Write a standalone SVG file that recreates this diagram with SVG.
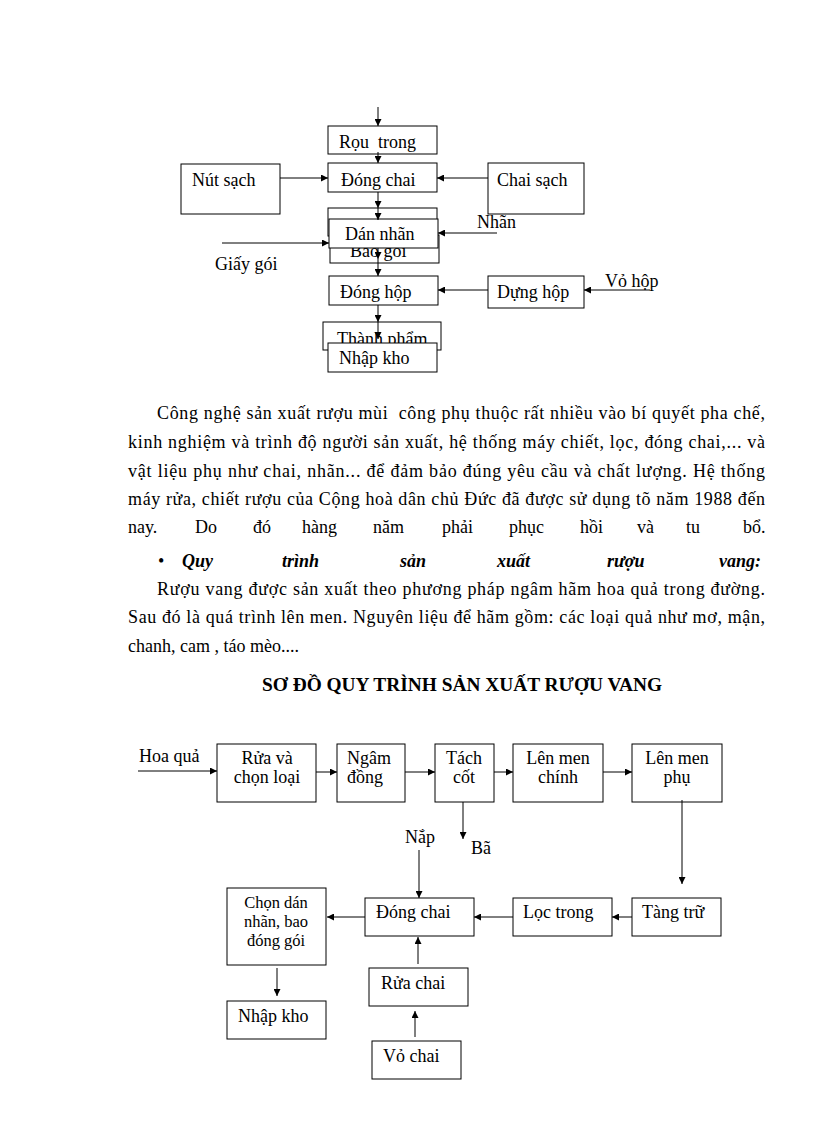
<svg xmlns="http://www.w3.org/2000/svg" width="816" height="1123" viewBox="0 0 816 1123">
<style>
.box{fill:#fff;stroke:#000;stroke-width:1}
.t{font-family:"Liberation Serif","Times New Roman",serif;font-size:18px;fill:#000}
.s{font-size:16.5px}
.p{font-family:"Liberation Serif","Times New Roman",serif;font-size:18px;fill:#000}
.bi{font-weight:bold;font-style:italic}
.c{text-anchor:middle}
.ar{stroke:#000;stroke-width:1;fill:none;marker-end:url(#ah)}
</style>
<defs>
<marker id="ah" markerUnits="userSpaceOnUse" markerWidth="8" markerHeight="7" refX="7" refY="3.5" orient="auto">
<path d="M0,0 L7,3.5 L0,7 z" fill="#000"/>
</marker>
</defs>
<rect width="816" height="1123" fill="#fff"/>

<!-- Top diagram nodes -->
<g id="n-ruou-trong"><rect class="box" x="328" y="126" width="109" height="28"/><text class="t" x="339" y="148" xml:space="preserve">Rọu  trong</text></g>
<g id="n-dong-chai-1"><rect class="box" x="328" y="163" width="109" height="29"/><text class="t" x="341" y="186">Đóng chai</text></g>
<g id="n-nut-sach"><rect class="box" x="181" y="164" width="99" height="50"/><text class="t" x="192" y="186">Nút sạch</text></g>
<g id="n-chai-sach"><rect class="box" x="488" y="163" width="96" height="51"/><text class="t" x="497" y="186">Chai sạch</text></g>
<g id="n-kiem"><rect class="box" x="328" y="208" width="109" height="28"/></g>
<g id="n-bao-goi"><rect class="box" x="330" y="235" width="109" height="28"/><text class="t" x="350" y="257">Bao gói</text></g>
<g id="n-dan-nhan"><rect class="box" x="329" y="219" width="109" height="29"/><text class="t" x="345" y="240">Dán nhãn</text></g>
<g id="n-dong-hop"><rect class="box" x="329" y="276" width="109" height="29"/><text class="t" x="340" y="298">Đóng hộp</text></g>
<g id="n-dung-hop"><rect class="box" x="488" y="276" width="96" height="32"/><text class="t" x="497" y="298">Dựng hộp</text></g>
<g id="n-thanh-pham"><rect class="box" x="323" y="322" width="118" height="28"/><text class="t" x="337" y="345">Thành phẩm</text></g>
<g id="n-nhap-kho-1"><rect class="box" x="328" y="343" width="109" height="29"/><text class="t" x="339" y="364">Nhập kho</text></g>
<g id="l-top"><text class="t" x="215" y="270">Giấy gói</text><text class="t" x="477" y="228">Nhãn</text><text class="t" x="605" y="287">Vỏ hộp</text></g>

<!-- Paragraph text -->
<g id="paragraph">
<text class="p" x="157" y="419" textLength="608" lengthAdjust="spacing" xml:space="preserve">Công nghệ sản xuất rượu mùi  công phụ thuộc rất nhiều vào bí quyết pha chế,</text>
<text class="p" x="128" y="448" textLength="637" lengthAdjust="spacing">kinh nghiệm và trình độ người sản xuất, hệ thống máy chiết, lọc, đóng chai,... và</text>
<text class="p" x="128" y="477" textLength="637" lengthAdjust="spacing">vật liệu phụ như chai, nhãn... để đảm bảo đúng yêu cầu và chất lượng. Hệ thống</text>
<text class="p" x="128" y="505" textLength="637" lengthAdjust="spacing">máy rửa, chiết rượu của Cộng hoà dân chủ Đức đã được sử dụng tõ năm 1988 đến</text>
<text class="p" y="533"><tspan x="128">nay.</tspan><tspan x="195">Do</tspan><tspan x="253">đó</tspan><tspan x="302">hàng</tspan><tspan x="373">năm</tspan><tspan x="442">phải</tspan><tspan x="509">phục</tspan><tspan x="580">hồi</tspan><tspan x="637">và</tspan><tspan x="686">tu</tspan><tspan x="743">bổ.</tspan></text>
<text class="p" y="567"><tspan x="158">•</tspan><tspan class="bi" x="182">Quy</tspan><tspan class="bi" x="282">trình</tspan><tspan class="bi" x="400">sản</tspan><tspan class="bi" x="497">xuất</tspan><tspan class="bi" x="607">rượu</tspan><tspan class="bi" x="719">vang:</tspan></text>
<text class="p" x="157" y="595" textLength="608" lengthAdjust="spacing">Rượu vang được sản xuất theo phương pháp ngâm hãm hoa quả trong đường.</text>
<text class="p" x="128" y="623" textLength="637" lengthAdjust="spacing">Sau đó là quá trình lên men. Nguyên liệu để hãm gồm: các loại quả như mơ, mận,</text>
<text class="p" x="128" y="652">chanh, cam , táo mèo....</text>
<text class="p" x="262" y="691" font-weight="bold" textLength="400" lengthAdjust="spacingAndGlyphs">SƠ ĐỒ QUY TRÌNH SẢN XUẤT RƯỢU VANG</text>
</g>

<!-- Bottom diagram nodes -->
<g id="n-rua-chon"><rect class="box" x="217" y="744" width="99" height="58"/><text class="t c" x="267" y="764">Rửa và</text><text class="t c" x="267" y="783">chọn loại</text></g>
<g id="n-ngam"><rect class="box" x="337" y="744" width="68" height="58"/><text class="t" x="347" y="764">Ngâm</text><text class="t" x="347" y="783">đồng</text></g>
<g id="n-tach"><rect class="box" x="435" y="744" width="59" height="58"/><text class="t c" x="464" y="764">Tách</text><text class="t c" x="464" y="783">cốt</text></g>
<g id="n-men-chinh"><rect class="box" x="513" y="744" width="90" height="58"/><text class="t c" x="558" y="764">Lên men</text><text class="t c" x="558" y="783">chính</text></g>
<g id="n-men-phu"><rect class="box" x="632" y="744" width="90" height="58"/><text class="t c" x="677" y="764">Lên men</text><text class="t c" x="677" y="783">phụ</text></g>
<g id="n-chon-dan"><rect class="box" x="227" y="888" width="99" height="77"/><text class="t s c" x="276" y="908">Chọn dán</text><text class="t s c" x="276" y="927">nhãn, bao</text><text class="t s c" x="276" y="946">đóng gói</text></g>
<g id="n-dong-chai-2"><rect class="box" x="365" y="898" width="109" height="38"/><text class="t" x="376" y="918">Đóng chai</text></g>
<g id="n-loc"><rect class="box" x="513" y="898" width="99" height="38"/><text class="t" x="523" y="918">Lọc trong</text></g>
<g id="n-tang"><rect class="box" x="632" y="898" width="89" height="38"/><text class="t" x="642" y="918">Tàng trữ</text></g>
<g id="n-nhap-kho-2"><rect class="box" x="227" y="1001" width="99" height="38"/><text class="t" x="238" y="1022">Nhập kho</text></g>
<g id="n-rua-chai"><rect class="box" x="369" y="968" width="99" height="38"/><text class="t" x="381" y="989">Rửa chai</text></g>
<g id="n-vo-chai"><rect class="box" x="372" y="1041" width="89" height="38"/><text class="t" x="383" y="1062">Vỏ chai</text></g>
<g id="l-bottom"><text class="t" x="139" y="762">Hoa quả</text><text class="t" x="405" y="843">Nắp</text><text class="t" x="471" y="854">Bã</text></g>

<!-- Connectors -->
<g id="connectors">
<line class="ar" x1="378" y1="107" x2="378" y2="126"/>
<line class="ar" x1="378" y1="152" x2="378" y2="163"/>
<line class="ar" x1="378" y1="192" x2="378" y2="208"/>
<line class="ar" x1="378" y1="208" x2="378" y2="220"/>
<line class="ar" x1="378" y1="248" x2="378" y2="259"/>
<line class="ar" x1="378" y1="259" x2="378" y2="276"/>
<line class="ar" x1="378" y1="305" x2="378" y2="322"/>
<line class="ar" x1="378" y1="322" x2="378" y2="339"/>
<line class="ar" x1="280" y1="178" x2="328" y2="178"/>
<line class="ar" x1="488" y1="178" x2="437" y2="178"/>
<line class="ar" x1="222" y1="243" x2="329" y2="243"/>
<line class="ar" x1="497" y1="233" x2="438" y2="233"/>
<line class="ar" x1="488" y1="290" x2="438" y2="290"/>
<line class="ar" x1="650" y1="290" x2="584" y2="290"/>

<line class="ar" x1="138" y1="771" x2="217" y2="771"/>
<line class="ar" x1="316" y1="772" x2="337" y2="772"/>
<line class="ar" x1="405" y1="772" x2="435" y2="772"/>
<line class="ar" x1="494" y1="772" x2="513" y2="772"/>
<line class="ar" x1="603" y1="772" x2="632" y2="772"/>
<line class="ar" x1="463" y1="802" x2="463" y2="839"/>
<line class="ar" x1="682" y1="800" x2="682" y2="884"/>
<line class="ar" x1="419" y1="850" x2="419" y2="898"/>
<line class="ar" x1="632" y1="917" x2="612" y2="917"/>
<line class="ar" x1="513" y1="917" x2="474" y2="917"/>
<line class="ar" x1="365" y1="917" x2="327" y2="917"/>
<line class="ar" x1="277" y1="968" x2="277" y2="996"/>
<line class="ar" x1="418" y1="964" x2="418" y2="937"/>
<line class="ar" x1="415" y1="1037" x2="415" y2="1011"/>
</g>
</svg>
